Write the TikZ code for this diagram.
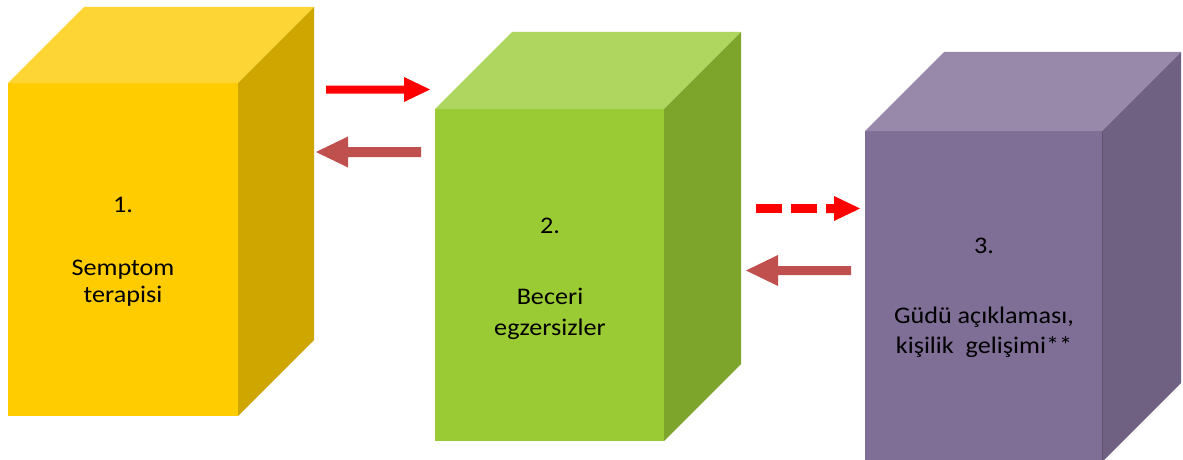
\documentclass[tikz,border=0pt]{standalone}
\usepackage{fontspec}
\setmainfont{Carlito}
\newfontfamily\boxfont[FakeStretch=1.1]{Carlito}
\definecolor{yfront}{HTML}{FFCC00}
\definecolor{ytop}{HTML}{FDD535}
\definecolor{yside}{HTML}{CFA600}
\definecolor{gfront}{HTML}{9ACB34}
\definecolor{gtop}{HTML}{AFD65E}
\definecolor{gside}{HTML}{7EA52B}
\definecolor{pfront}{HTML}{7F6E96}
\definecolor{ptop}{HTML}{9889AB}
\definecolor{pside}{HTML}{6F6182}
\definecolor{darkred}{HTML}{C0504D}
\tikzset{
  boxtext/.style={anchor=base, inner sep=0pt, font=\boxfont\fontsize{23.8}{28}\selectfont, text=black},
}
% \cubeshape{name}{x}{y}{w}{h}{dx}{dy}{front}{top}{side}
\newcommand{\cubeshape}[9]{%
  \coordinate (#1-fl) at (#2,#3);
  \coordinate (#1-fr) at ({#2+#4},#3);
  \coordinate (#1-br) at ({#2+#4+#6},{#3-#6});
  \coordinate (#1-bl) at ({#2+#6},{#3-#6});
  \coordinate (#1-frb) at ({#2+#4},{#3+#5});
  \coordinate (#1-brb) at ({#2+#4+#6},{#3+#5-#6});
  \coordinate (#1-flb) at (#2,{#3+#5});
  \fill[#7] (#1-fl) -- (#1-fr) -- (#1-frb) -- (#1-flb) -- cycle;
  \fill[#8] (#1-fl) -- (#1-bl) -- (#1-br) -- (#1-fr) -- cycle;
  \fill[#9] (#1-fr) -- (#1-br) -- (#1-brb) -- (#1-frb) -- cycle;
}
% \blockarrow{tail x}{tip x}{y}{shaft half}{head half}{head len}{color}
\newcommand{\blockarrow}[7]{%
  \pgfmathsetmacro{\sgn}{#2>#1 ? 1 : -1}
  \pgfmathsetmacro{\hb}{#2-\sgn*#6}
  \fill[#7] (#1,{#3-#4}) -- (\hb,{#3-#4}) -- (\hb,{#3-#5}) -- (#2,#3) -- (\hb,{#3+#5}) -- (\hb,{#3+#4}) -- (#1,{#3+#4}) -- cycle;
}
\begin{document}
\begin{tikzpicture}[x=1pt,y=-1pt]
\useasboundingbox (0,0) rectangle (1183,460);
\fill[white] (0,0) rectangle (1183,460);
% cubes
\cubeshape{c1}{8}{83}{230}{333}{76}{yfront}{ytop}{yside}
\cubeshape{c2}{435}{109}{229}{332}{77}{gfront}{gtop}{gside}
\cubeshape{c3}{865}{131}{237}{331}{79}{pfront}{ptop}{pside}
\draw[pside!85!black, line width=0.6pt] (c3-fr) -- (c3-frb);
% texts
\node[boxtext] (t1a) at (123,212) {1.};
\node[boxtext] (t1b) at (123,275) {Semptom};
\node[boxtext] (t1c) at (123,302) {terapisi};
\node[boxtext] (t2a) at (550,233) {2.};
\node[boxtext] (t2b) at (550,304) {Beceri};
\node[boxtext] (t2c) at (550,335) {egzersizler};
\node[boxtext] (t3a) at (984,253) {3.};
\node[boxtext] (t3b) at (984,323) {Güdü açıklaması,};
\node[boxtext] (t3c) at (984,353) {kişilik\ \ gelişimi**};
% arrows
\blockarrow{326}{430}{89.5}{4}{12.5}{26}{red}
\blockarrow{421}{316}{152}{5}{15.5}{32}{darkred}
\fill[red] (756,204) rectangle (782,213);
\fill[red] (791,204) rectangle (817,213);
\blockarrow{826}{860}{208.5}{4.5}{12.5}{26}{red}
\blockarrow{851}{746}{270.5}{4.5}{15.5}{32}{darkred}
\end{tikzpicture}
\end{document}
